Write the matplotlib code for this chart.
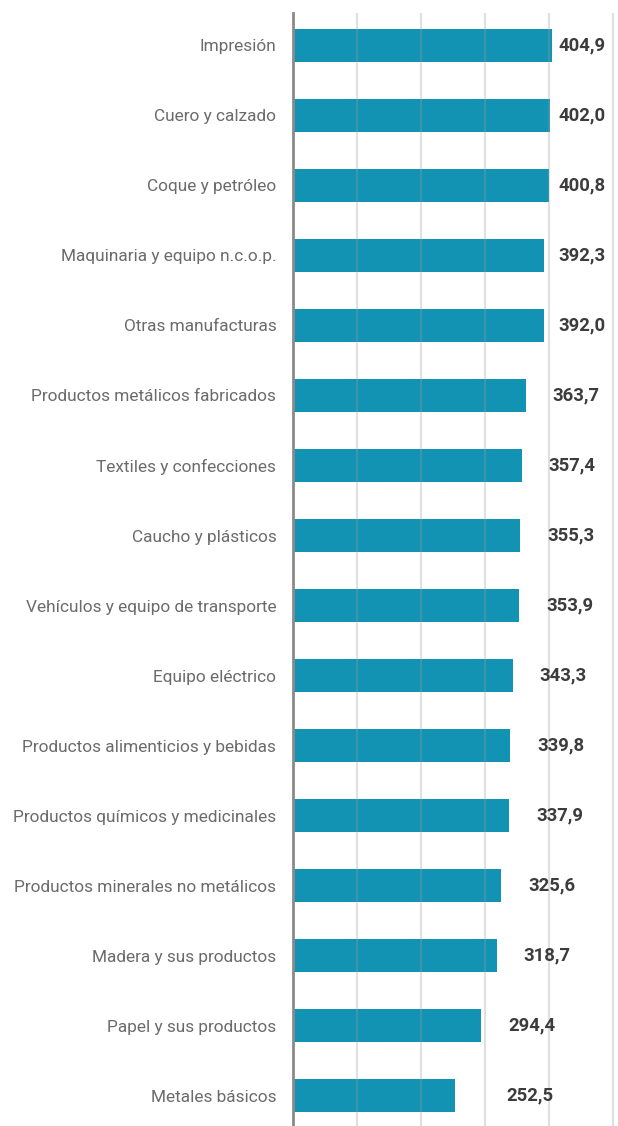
import matplotlib
matplotlib.use("Agg")
import matplotlib.pyplot as plt
import numpy as np

# ---- Data ----
categories = [
    "Impresión",
    "Cuero y calzado",
    "Coque y petróleo",
    "Maquinaria y equipo n.c.o.p.",
    "Otras manufacturas",
    "Productos metálicos fabricados",
    "Textiles y confecciones",
    "Caucho y plásticos",
    "Vehículos y equipo de transporte",
    "Equipo eléctrico",
    "Productos alimenticios y bebidas",
    "Productos químicos y medicinales",
    "Productos minerales no metálicos",
    "Madera y sus productos",
    "Papel y sus productos",
    "Metales básicos",
]
values = [404.9, 402.0, 400.8, 392.3, 392.0, 363.7, 357.4, 355.3,
          353.9, 343.3, 339.8, 337.9, 325.6, 318.7, 294.4, 252.5]
value_labels = ["404,9", "402,0", "400,8", "392,3", "392,0", "363,7", "357,4", "355,3",
                "353,9", "343,3", "339,8", "337,9", "325,6", "318,7", "294,4", "252,5"]
grid_ticks = [100, 200, 300, 400, 500]

BAR_COLOR = "#1393b3"
CAT_COLOR = "#6b6b6b"
VAL_COLOR = "#3c3c3c"

plt.rcParams["font.family"] = ["Roboto", "DejaVu Sans"]

fig = plt.figure(figsize=(6.18, 11.26), dpi=100)
ax = fig.add_axes([293 / 618, 0.0, 1 - 293 / 618, 1 - 13 / 1126])

y = np.arange(len(categories))
ax.barh(y, values, height=0.47, color=BAR_COLOR, zorder=2)

# vertical gridlines drawn over the bars
for g in grid_ticks:
    ax.axvline(g, color="#9a9a9a", alpha=0.3, lw=1.5, zorder=3)

# value labels: roughly right of bar end, clamped like in the original
for yi, v, lab in zip(y, values, value_labels):
    x = min(max(v + 42, 334), 415)
    ax.text(x, yi, lab, ha="left", va="center", fontsize=13.3,
            fontweight="bold", color=VAL_COLOR, zorder=4)

ax.set_xlim(0, 508)
ax.set_ylim(len(categories) - 0.57, -0.46)

ax.set_yticks(y)
ax.set_yticklabels(categories, fontsize=12.4, color=CAT_COLOR)
ax.tick_params(axis="y", length=0, pad=12)
ax.set_xticks([])

for side in ["top", "right", "bottom"]:
    ax.spines[side].set_visible(False)
ax.spines["left"].set_color("#8a8a8a")
ax.spines["left"].set_linewidth(2)
ax.spines["left"].set_zorder(5)

fig.savefig("out.png", dpi=100)
